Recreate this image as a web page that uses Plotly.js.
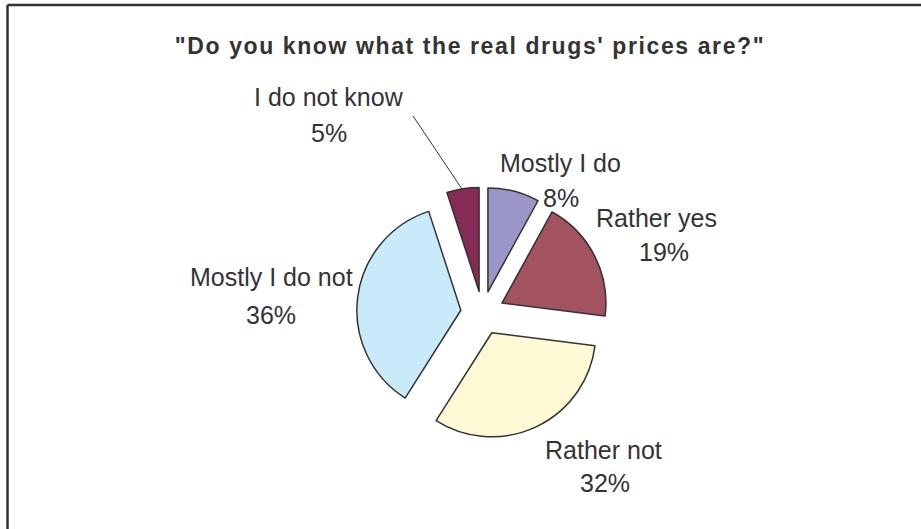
<!DOCTYPE html>
<html><head><meta charset="utf-8">
<script src="https://cdn.plot.ly/plotly-3.0.1.min.js"></script>
<style>
html,body{margin:0;padding:0;background:#fff;overflow:hidden}
.gtitle{letter-spacing:1.6px}
</style>
</head><body>
<div id="chart" style="width:921px;height:529px"></div>
<script>
// ---- data ----
const titleText = '"Do you know what the real drugs\' prices are?"';
const labels = ["Mostly I do", "Rather yes", "Rather not", "Mostly I do not", "I do not know"];
const values = [8, 19, 32, 36, 5];
const colors = ["#9B96C8", "#A3525F", "#FFF9D6", "#C9EAF8", "#852B56"];

// ---- layout helpers (pixel -> paper) ----
const W = 921, H = 529;
const px = x => x / W;
const py = y => 1 - y / H;
const namePos = [[560,163],[656,218],[603,450],[271,277],[329,97]];
const pctPos  = [[561,198],[664,252],[605,483],[271,315],[329,133]];

const labelFont = {family: "Liberation Sans, Arial, sans-serif", size: 25, color: "#333333"};

const annotations = [];
labels.forEach((lab, i) => {
  annotations.push({xref:"paper", yref:"paper", x:px(namePos[i][0]), y:py(namePos[i][1]),
    xanchor:"center", yanchor:"middle", text:lab, showarrow:false, font:labelFont});
  annotations.push({xref:"paper", yref:"paper", x:px(pctPos[i][0]), y:py(pctPos[i][1]),
    xanchor:"center", yanchor:"middle", text:values[i] + "%", showarrow:false, font:labelFont});
});
// leader line for the small slice label
annotations.push({xref:"paper", yref:"paper", x:px(462), y:py(189), text:" ",
  showarrow:true, arrowhead:0, arrowwidth:1, arrowcolor:"#333333",
  ax:-51, ay:-76, standoff:0, startstandoff:0, font:{size:2}});

const trace = {
  type: "pie",
  labels: labels,
  values: values,
  sort: false,
  direction: "clockwise",
  rotation: 0,
  pull: values.map(() => 0.21),
  textinfo: "none",
  hoverinfo: "label+percent",
  marker: {colors: colors, line: {color: "#333333", width: 1.5}},
  domain: {x: [px(356.7), px(608.3)], y: [py(438.8), py(187.2)]},
  showlegend: false
};

const layout = {
  width: W, height: H,
  margin: {l:0, r:0, t:0, b:0},
  paper_bgcolor: "#ffffff",
  plot_bgcolor: "#ffffff",
  title: {text: "<b>" + titleText + "</b>", x: px(470), xanchor: "center",
    xref: "paper", yref: "container", y: py(46), yanchor: "middle",
    font: {family: "Liberation Sans, Arial, sans-serif", size: 23, color: "#333333"}},
  annotations: annotations,
  shapes: [
    {type:"line", xref:"paper", yref:"paper", x0:px(7.5), x1:1.02, y0:py(5), y1:py(5), line:{color:"#333333", width:2.5}},
    {type:"line", xref:"paper", yref:"paper", x0:px(7.5), x1:px(7.5), y0:py(5), y1:-0.02, line:{color:"#333333", width:2.5}}
  ],
  showlegend: false
};

Plotly.newPlot("chart", [trace], layout, {displayModeBar: false, staticPlot: true});
</script>
</body></html>
